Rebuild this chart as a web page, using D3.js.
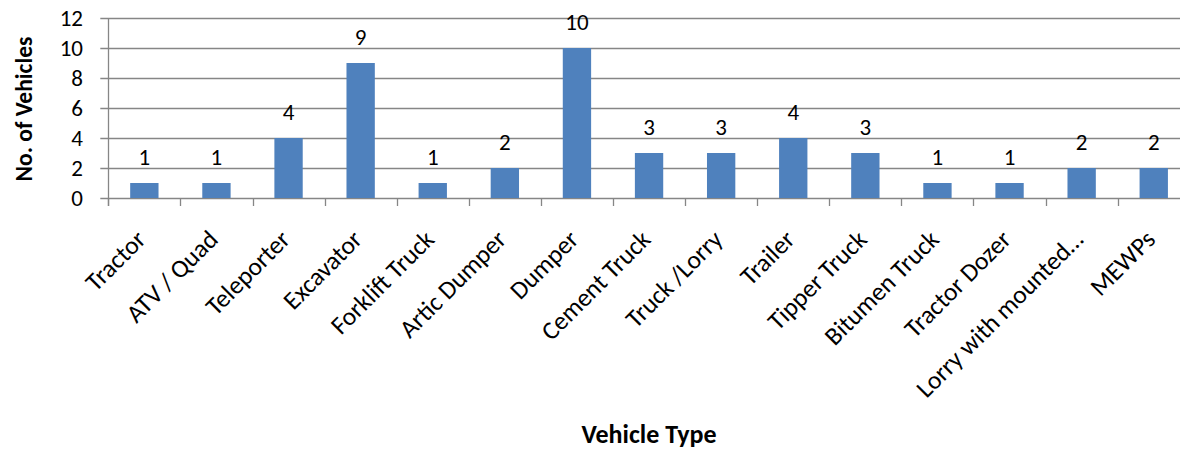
<!DOCTYPE html>
<html>
<head>
<meta charset="utf-8">
<script src="https://cdn.jsdelivr.net/npm/d3@7"></script>
<style>
  html, body { margin: 0; padding: 0; background: #fff; }
  svg { display: block; }
  text { font-family: Carlito, Calibri, Lato, sans-serif; fill: #000; }
</style>
</head>
<body>
<svg id="chart" width="1180" height="451"></svg>
<script>
const categories = ["Tractor", "ATV / Quad", "Teleporter", "Excavator", "Forklift Truck", "Artic Dumper", "Dumper", "Cement Truck", "Truck /Lorry", "Trailer", "Tipper Truck", "Bitumen Truck", "Tractor Dozer", "Lorry with mounted…", "MEWPs"];
const values = [1, 1, 4, 9, 1, 2, 10, 3, 3, 4, 3, 1, 1, 2, 2];
const yTicks = [0, 2, 4, 6, 8, 10, 12];
const xTitle = "Vehicle Type";
const yTitle = "No. of Vehicles";

const svg = d3.select("#chart");
const pLeft = 108.3, pRight = 1189.8, pTop = 18, pBottom = 198;
const gridColor = "#868686";
const barColor = "#4F81BD";

const x = d3.scaleBand().domain(categories).range([pLeft, pRight]).paddingInner(0.607).paddingOuter(0.3035);
const xCat = d3.scaleBand().domain(categories).range([pLeft, pRight]).padding(0);
const y = d3.scaleLinear().domain([0, 12]).range([pBottom, pTop]);

// gridlines + y ticks
svg.append("g").selectAll("line").data(yTicks).join("line")
  .attr("x1", pLeft - 8).attr("x2", pRight)
  .attr("y1", d => Math.round(y(d)) + 0.5).attr("y2", d => Math.round(y(d)) + 0.5)
  .attr("stroke", gridColor).attr("stroke-width", 1.3);

// y axis line
svg.append("line").attr("x1", Math.round(pLeft) + 0.5).attr("x2", Math.round(pLeft) + 0.5)
  .attr("y1", pTop).attr("y2", pBottom + 8).attr("stroke", gridColor).attr("stroke-width", 1.3);

// x tick marks at band boundaries
svg.append("g").selectAll("line").data(categories).join("line")
  .attr("x1", d => Math.round(xCat(d)) + 0.5).attr("x2", d => Math.round(xCat(d)) + 0.5)
  .attr("y1", pBottom).attr("y2", pBottom + 8)
  .attr("stroke", gridColor).attr("stroke-width", 1.3);

// y tick labels
svg.append("g").selectAll("text").data(yTicks).join("text")
  .attr("x", 83).attr("y", d => y(d))
  .attr("dy", "0.36em").attr("text-anchor", "end")
  .style("font-size", "23px").text(d => d);

// bars
svg.append("g").selectAll("rect").data(values).join("rect")
  .attr("x", (d, i) => x(categories[i]))
  .attr("width", x.bandwidth())
  .attr("y", d => y(d))
  .attr("height", d => y(0) - y(d))
  .attr("fill", barColor);

// value labels
svg.append("g").selectAll("text").data(values).join("text")
  .attr("x", (d, i) => x(categories[i]) + x.bandwidth() / 2)
  .attr("y", d => y(d) - 18.5)
  .attr("text-anchor", "middle")
  .style("font-size", "23px").text(d => d);

// x category labels, rotated -45
svg.append("g").selectAll("text").data(categories).join("text")
  .attr("transform", d => `translate(${xCat(d) + xCat.bandwidth() / 2 + 3},${241}) rotate(-45)`)
  .attr("text-anchor", "end")
  .style("font-size", "25.5px").text(d => d);

// axis titles
svg.append("text").attr("x", (pLeft + pRight) / 2).attr("y", 443)
  .attr("text-anchor", "middle").style("font-size", "26px").style("font-weight", "bold").text(xTitle);

svg.append("text").attr("transform", `translate(32,${(pTop + pBottom) / 2 + 1}) rotate(-90)`)
  .attr("text-anchor", "middle").style("font-size", "23.5px").style("font-weight", "bold").text(yTitle);
</script>
</body>
</html>
